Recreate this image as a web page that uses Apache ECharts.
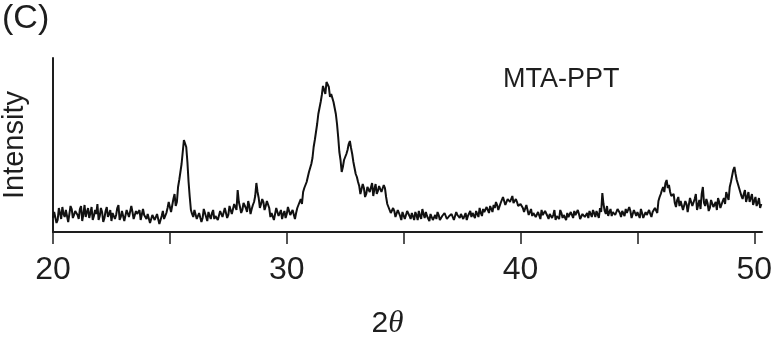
<!DOCTYPE html>
<html>
<head>
<meta charset="utf-8">
<script src="https://cdn.jsdelivr.net/npm/echarts@6/dist/echarts.min.js"></script>
<style>html,body{margin:0;padding:0;background:#fff}#c{width:771px;height:342px}</style>
</head>
<body>
<div id="c"></div>
<script>
// 2θ start and step of the scan (degrees)
var scanStart = 20.0;
var scanStep = 0.1;
// Intensity (arbitrary units) at 20.0, 20.1, ... 50.3
var intensity = [
  14, 22, 12, 19, 25, 15, 20, 11, 23, 17,      // 20
  21, 13, 26, 18, 15, 24, 19, 12, 22, 28,      // 21
  16, 20, 14, 25, 18, 11, 21, 17, 27, 15,      // 22
  19, 13, 24, 16, 20, 12, 18, 22, 14, 17,      // 23
  13, 16, 11, 15, 12, 19, 10, 21, 14, 24,      // 24
  28, 22, 38, 30, 52, 68, 92, 85, 50, 22,      // 25
  15, 20, 12, 17, 14, 21, 11, 16, 19, 13,      // 26
  18, 14, 20, 16, 22, 17, 24, 20, 26, 42,      // 27
  25, 22, 28, 20, 26, 23, 30, 49, 34, 28,      // 28
  30, 26, 33, 15, 20, 14, 22, 17, 13, 21,      // 29
  18, 23, 15, 21, 19, 27, 33, 40, 46, 55,      // 30
  62, 74, 92, 108, 124, 137, 142, 150, 145, 138, // 31
  130, 118, 95, 72, 65, 75, 82, 91, 78, 64,    // 32
  55, 46, 40, 44, 38, 47, 42, 36, 48, 41,      // 33
  45, 38, 44, 28, 22, 17, 21, 14, 19, 12,      // 34
  18, 15, 22, 13, 17, 20, 12, 16, 23, 14,      // 35
  16, 11, 19, 14, 13, 17, 10, 15, 18, 12,      // 36
  15, 19, 13, 17, 14, 20, 16, 12, 18, 15,      // 37
  17, 21, 15, 19, 23, 18, 22, 26, 20, 24,      // 38
  27, 23, 30, 33, 28, 35, 31, 29, 33, 26,      // 39
  28, 24, 22, 26, 19, 16, 21, 14, 18, 22,      // 40
  15, 19, 13, 20, 17, 12, 18, 22, 14, 16,      // 41
  19, 13, 17, 21, 15, 18, 12, 20, 16, 14,      // 42
  18, 22, 15, 19, 24, 39, 21, 26, 20, 16,      // 43
  22, 18, 25, 15, 20, 23, 17, 21, 14, 19,      // 44
  20, 14, 19, 12, 17, 22, 15, 21, 26, 31,      // 45
  38, 45, 49, 44, 40, 34, 29, 32, 26, 30,      // 46
  24, 28, 22, 30, 25, 38, 27, 23, 45, 26,      // 47
  29, 24, 33, 27, 22, 30, 26, 34, 40, 32,      // 48
  50, 62, 58, 48, 40, 33, 42, 35, 30, 38,      // 49
  31, 26, 34, 28                               // 50
];
// Intensity read at the half steps 20.05, 20.15, ... 50.25
var intensityHalf = [
  20, 9, 24, 13, 18, 22, 10, 26, 14, 21,       // 20
  17, 23, 11, 27, 20, 14, 25, 16, 18, 12,      // 21
  24, 10, 21, 15, 22, 19, 13, 24, 12, 21,      // 22
  11, 22, 15, 26, 13, 21, 16, 12, 23, 15,      // 23
  18, 9, 17, 12, 18, 8, 16, 13, 19, 30,        // 24
  20, 33, 26, 45, 60, 80, 90, 70, 35, 18,      // 25
  22, 13, 19, 10, 23, 15, 20, 13, 22, 16,      // 26
  12, 21, 15, 24, 14, 26, 18, 28, 22, 30,      // 27
  19, 29, 24, 31, 18, 27, 36, 40, 24, 33,      // 28
  22, 31, 24, 19, 12, 24, 16, 22, 18, 14,      // 29
  25, 17, 22, 13, 24, 30, 28, 44, 50, 60,      // 30
  68, 85, 100, 118, 130, 146, 138, 152, 135, 140, // 31
  124, 108, 80, 60, 72, 78, 88, 84, 70, 58,    // 32
  50, 38, 48, 35, 45, 40, 49, 43, 38, 46,      // 33
  40, 47, 35, 25, 19, 24, 15, 22, 16, 20,      // 34
  13, 21, 16, 19, 12, 17, 21, 13, 18, 20,      // 35
  14, 18, 12, 17, 20, 12, 16, 19, 13, 16,      // 36
  18, 12, 20, 15, 18, 13, 19, 16, 21, 19,      // 37
  14, 18, 24, 16, 20, 25, 19, 23, 27, 30,      // 38
  22, 29, 35, 27, 33, 30, 36, 27, 30, 24,      // 39
  30, 20, 27, 17, 23, 19, 15, 20, 13, 17,      // 40
  21, 16, 18, 14, 22, 16, 13, 19, 17, 12,      // 41
  15, 20, 14, 17, 22, 13, 18, 15, 19, 21,      // 42
  15, 19, 21, 14, 20, 28, 18, 16, 23, 20,      // 43
  17, 23, 19, 21, 16, 19, 25, 14, 22, 16,      // 44
  17, 23, 14, 20, 15, 18, 20, 24, 19, 35,      // 45
  42, 40, 52, 47, 36, 38, 25, 35, 31, 22,      // 46
  31, 20, 34, 26, 33, 22, 32, 38, 29, 33,      // 47
  21, 32, 25, 30, 34, 24, 31, 28, 36, 45,      // 48
  56, 65, 52, 44, 36, 38, 30, 40, 34, 27,      // 49
  35, 29, 24                                   // 50
];
// Axis ticks and labels
var xTicks = [20, 25, 30, 35, 40, 45, 50];
var xLabels = [20, 30, 40, 50];

var pts = [];
intensity.forEach(function (v, i) {
  pts.push([+(scanStart + i * scanStep).toFixed(2), v]);
  if (i < intensityHalf.length) {
    pts.push([+(scanStart + (i + 0.5) * scanStep).toFixed(2), intensityHalf[i]]);
  }
});

var chart = echarts.init(document.getElementById('c'), null, {renderer: 'canvas'});
var ink = '#1e1e1e';
var ff = '"Liberation Sans", Arial, sans-serif';
chart.setOption({
  animation: false,
  backgroundColor: '#fff',
  grid: {left: 53, right: 9, top: 58, bottom: 110, containLabel: false, outerBoundsMode: 'none'},
  xAxis: {
    type: 'value', min: 20, max: 50.33,
    name: '{a|2}{b|θ}',
    nameLocation: 'middle', nameGap: 76,
    nameTextStyle: {
      padding: [0, 40, 0, 0],
      rich: {
        a: {fontSize: 30, fontFamily: ff, color: ink},
        b: {fontSize: 31, fontFamily: '"Liberation Serif", serif', fontStyle: 'italic', color: ink}
      }
    },
    axisLine: {show: true, onZero: false, lineStyle: {color: ink, width: 2}},
    axisTick: {show: true, inside: false, length: 12, customValues: xTicks, lineStyle: {color: ink, width: 1.5}},
    axisLabel: {customValues: xLabels, margin: 22, fontSize: 32, fontFamily: ff, color: ink},
    splitLine: {show: false}
  },
  yAxis: {
    type: 'value', min: 0, max: 174,
    name: 'Intensity', nameLocation: 'middle', nameGap: 24, nameRotate: 90,
    nameTextStyle: {fontSize: 29, fontFamily: ff, color: ink},
    axisLine: {show: true, lineStyle: {color: ink, width: 2}},
    axisTick: {show: false},
    axisLabel: {show: false},
    splitLine: {show: false}
  },
  graphic: [
    {type: 'text', left: 2, top: 2, style: {text: '(C)', fontSize: 34, fontFamily: ff, fill: ink}},
    {type: 'text', left: 503, top: 66, style: {text: 'MTA-PPT', fontSize: 27, fontFamily: ff, fill: ink}}
  ],
  series: [{
    type: 'line', data: pts, showSymbol: false, symbol: 'none',
    lineStyle: {color: '#111', width: 2}
  }]
});
</script>
</body>
</html>
